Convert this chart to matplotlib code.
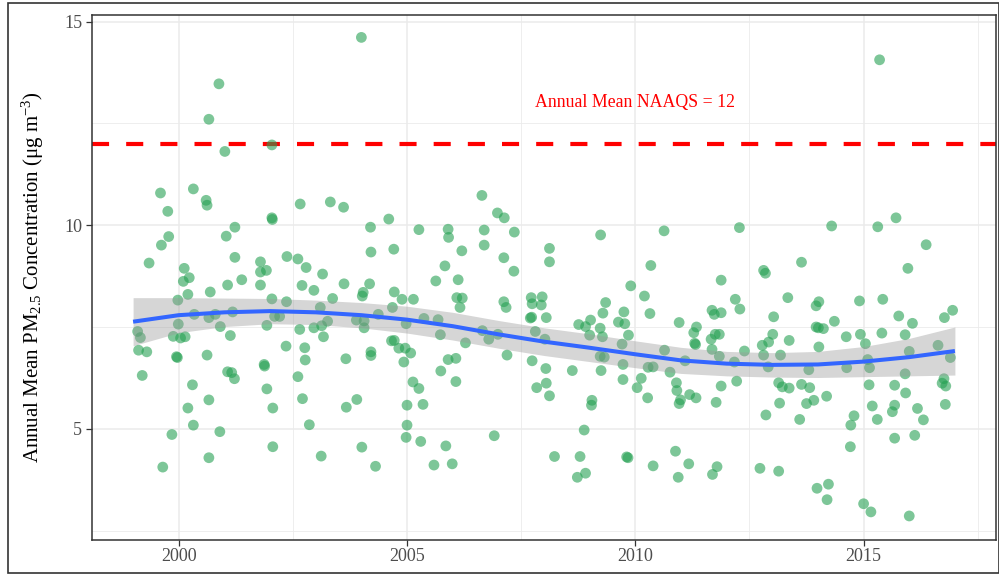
import matplotlib
matplotlib.use('Agg')
import matplotlib.pyplot as plt
from matplotlib.patches import Rectangle

plt.rcParams['font.family'] = ['Liberation Serif', 'DejaVu Serif']
plt.rcParams['mathtext.fontset'] = 'custom'
plt.rcParams['mathtext.rm'] = 'Liberation Serif'
plt.rcParams['mathtext.it'] = 'Liberation Serif:italic'
plt.rcParams['mathtext.default'] = 'regular'

obs_year = [
    2004.00, 2000.88, 2000.66, 2002.04, 2001.01, 1999.60, 2000.32, 2000.60, 2000.62, 1999.76,
    2002.66, 2003.32, 2003.61, 2002.04, 2002.05, 2001.23, 2001.04, 1999.78, 1999.62, 1999.35,
    2004.20, 2004.60, 2004.21, 2004.71, 2001.23, 2002.37, 2002.61, 2002.79, 2003.15, 2001.79,
    2001.79, 2001.92, 2000.12, 2000.23, 2000.10, 2001.38,
    2000.20, 1999.98, 2000.69, 2001.07, 2001.79, 2002.04, 2002.36, 2002.70, 2002.96, 2003.37,
    2003.62, 2004.04, 2004.02, 2004.18, 2004.72, 2003.10, 1999.10, 1999.16, 1999.12, 1999.30,
    1999.20, 1999.99, 1999.88, 2000.04, 2000.14, 1999.95, 1999.97, 2000.34, 2000.66, 2000.80,
    2000.91, 2001.18, 2001.13, 2000.62, 2000.30, 2000.20, 2000.32, 1999.85, 1999.65, 2000.66,
    2000.90, 2000.66, 2001.07, 2001.16, 2001.22, 2001.93, 2002.10, 2002.21, 2002.35, 2001.87,
    2001.88, 2001.93, 2002.06, 2002.06, 2002.65, 2002.96, 2003.13, 2003.26, 2002.76, 2002.77,
    2003.17, 2002.61, 2002.71, 2002.86, 2003.12, 2003.66, 2003.89, 2004.06, 2004.06, 2004.37,
    2004.21, 2004.21, 2004.66, 2004.68, 2003.90, 2003.67, 2004.01, 2004.31,
    2006.64, 2006.98, 2007.13, 2005.26, 2005.90, 2005.91, 2006.69, 2007.35, 2006.69, 2006.20,
    2007.12, 2005.83, 2007.34, 2008.12, 2008.12, 2009.24, 2010.63, 2010.34, 2005.63, 2006.12,
    2004.89, 2005.14, 2006.09, 2006.21, 2006.16, 2007.12, 2007.17, 2007.72, 2007.96, 2007.74,
    2007.94, 2007.70, 2007.73, 2008.05, 2007.81, 2008.02, 2007.74, 2008.04, 2007.84, 2008.05,
    2008.12, 2004.72, 2004.82, 2004.96, 2005.08, 2004.93, 2004.98, 2005.37, 2005.68, 2005.73,
    2006.28, 2006.65, 2006.79, 2006.99, 2007.19, 2005.90, 2006.07, 2005.74, 2006.07, 2005.13,
    2005.26, 2005.00, 2005.35, 2005.00, 2004.98, 2005.30, 2005.85, 2005.59, 2005.99, 2006.91,
    2008.62, 2008.76, 2008.91, 2009.02, 2009.00, 2009.23, 2009.28, 2009.29, 2009.35, 2009.23,
    2009.32, 2009.25, 2009.63, 2009.75, 2009.77, 2009.85, 2009.71, 2009.73, 2009.73, 2009.90,
    2010.20, 2010.32, 2010.13, 2010.04, 2010.27, 2010.28, 2010.39, 2010.64, 2010.76, 2010.96,
    2011.09, 2010.90, 2010.91, 2010.99, 2010.96, 2011.19, 2011.33, 2008.88, 2008.23, 2008.79,
    2008.73, 2008.91, 2009.05, 2009.04, 2009.81, 2009.84, 2010.88, 2010.39, 2010.94, 2011.17,
    2015.35, 2012.28, 2014.30, 2015.31, 2015.71, 2016.37, 2015.97, 2013.64, 2012.81, 2012.85,
    2011.88,
    2012.19, 2012.29, 2011.68, 2011.73, 2011.88, 2011.34, 2011.28, 2011.30, 2011.32, 2011.66,
    2011.75, 2011.84, 2011.68, 2011.84, 2012.17, 2012.39, 2012.22, 2011.88, 2011.77, 2011.79,
    2011.69, 2012.73, 2013.14, 2012.78, 2012.92, 2013.01, 2012.81, 2012.91, 2013.03, 2013.34,
    2013.37, 2013.18, 2013.14, 2013.22, 2013.37, 2013.16, 2012.86, 2013.64, 2013.82, 2013.80,
    2013.75, 2013.91, 2013.60, 2014.19, 2013.96, 2014.02, 2013.96, 2014.01, 2014.12, 2014.02,
    2014.36, 2014.62, 2014.63, 2014.91, 2014.93, 2015.04, 2015.09, 2015.13, 2015.40, 2015.42,
    2015.12, 2015.19, 2015.30, 2014.79, 2014.72, 2014.71, 2013.98, 2014.23, 2014.20, 2015.00,
    2015.16, 2016.00, 2015.68, 2016.12, 2015.63, 2015.68, 2015.68, 2015.92, 2015.91, 2016.18,
    2016.31, 2015.77, 2016.07, 2015.91, 2016.00, 2016.63, 2016.77, 2016.95, 2016.90, 2016.76,
    2016.72, 2016.80, 2016.79,
]
obs_pm25 = [
    14.61, 13.47, 12.60, 11.97, 11.81, 10.79, 10.89, 10.61, 10.49, 10.34,
    10.52, 10.57, 10.44, 10.18, 10.14, 9.95, 9.73, 9.72, 9.51, 9.07,
    9.95, 10.15, 9.34, 9.41, 9.21, 9.23, 9.17, 8.96, 8.80, 9.10,
    8.85, 8.89, 8.94, 8.71, 8.62, 8.66,
    8.30, 8.16, 8.36, 8.53, 8.53, 8.19, 8.12, 8.52, 8.40, 8.20,
    8.56, 8.35, 8.26, 8.56, 8.36, 7.98, 7.39, 7.24, 6.93, 6.89,
    6.31, 7.57, 7.27, 7.23, 7.26, 6.77, 6.75, 7.81, 7.73, 7.81,
    7.51, 7.87, 7.29, 6.81, 6.08, 5.51, 5.09, 4.86, 4.06, 5.71,
    4.93, 4.29, 6.40, 6.38, 6.23, 7.54, 7.76, 7.76, 7.03, 6.58,
    6.54, 5.98, 5.51, 4.56, 7.44, 7.48, 7.53, 7.64, 6.99, 6.69,
    7.26, 6.28, 5.74, 5.10, 4.33, 6.72, 7.67, 7.65, 7.48, 7.81,
    6.89, 6.80, 7.16, 7.98, 5.72, 5.53, 4.55, 4.08,
    10.73, 10.30, 10.18, 9.89, 9.90, 9.70, 9.88, 9.83, 9.51, 9.37,
    9.20, 9.00, 8.87, 9.43, 9.10, 9.76, 9.86, 9.01, 8.63, 8.66,
    8.18, 8.18, 8.22, 8.21, 7.98, 8.12, 7.98, 8.22, 8.24, 8.07,
    8.04, 7.72, 7.74, 7.73, 7.39, 7.20, 6.67, 6.48, 6.01, 6.12,
    5.81, 7.17, 6.98, 6.98, 6.86, 6.64, 7.58, 7.71, 7.68, 7.31,
    7.11, 7.41, 7.20, 7.32, 6.81, 6.70, 6.73, 6.42, 6.16, 6.15,
    5.99, 5.58, 5.60, 5.09, 4.79, 4.69, 4.58, 4.11, 4.14, 4.83,
    6.43, 7.56, 7.51, 7.67, 7.30, 7.47, 7.26, 7.84, 8.10, 6.78,
    6.76, 6.43, 7.62, 7.87, 7.58, 7.30, 7.08, 6.58, 6.21, 8.51,
    8.26, 7.83, 6.24, 6.01, 5.76, 6.51, 6.52, 6.93, 6.39, 7.61,
    6.67, 6.13, 5.94, 5.71, 5.62, 5.84, 5.76, 4.97, 4.32, 4.32,
    3.81, 3.91, 5.70, 5.58, 4.31, 4.29, 4.45, 4.09, 3.81, 4.14,
    14.06, 9.94, 9.98, 9.96, 10.18, 9.52, 8.94, 9.09, 8.89, 8.82,
    8.65,
    8.18, 7.94, 7.91, 7.81, 7.85, 7.50, 7.36, 7.10, 7.07, 7.20,
    7.32, 7.32, 6.95, 6.78, 6.64, 6.91, 6.17, 6.05, 5.65, 4.07,
    3.88, 4.03, 3.96, 7.05, 7.13, 7.32, 6.81, 6.52, 7.75, 8.22,
    7.17, 6.81, 6.13, 6.03, 6.00, 5.63, 5.34, 6.09, 6.01, 6.45,
    5.62, 5.70, 5.23, 5.80, 8.02, 8.12, 7.50, 7.48, 7.46, 7.01,
    7.64, 7.26, 6.50, 8.14, 7.32, 7.09, 6.70, 6.50, 7.35, 8.18,
    6.08, 5.56, 5.23, 5.32, 5.09, 4.56, 3.54, 3.64, 3.26, 3.16,
    2.96, 2.86, 4.77, 4.84, 5.42, 5.58, 6.07, 5.88, 6.35, 5.50,
    5.22, 7.77, 7.59, 7.31, 6.90, 7.05, 7.73, 7.91, 6.75, 6.23,
    6.12, 6.05, 5.60,
]

smooth_year = [1999, 2000, 2001, 2002, 2003, 2004, 2005, 2006, 2007, 2008,
               2009, 2010, 2011, 2012, 2013, 2014, 2015, 2016, 2017]
smooth_fit = [7.63, 7.79, 7.86, 7.89, 7.86, 7.79, 7.68, 7.52, 7.32, 7.14,
              6.99, 6.83, 6.68, 6.60, 6.57, 6.58, 6.65, 6.76, 6.91]
smooth_half = [0.59, 0.43, 0.35, 0.31, 0.30, 0.31, 0.33, 0.34, 0.34, 0.34,
               0.34, 0.33, 0.32, 0.30, 0.30, 0.32, 0.37, 0.46, 0.59]

naaqs = 12
naaqs_label = 'Annual Mean NAAQS = 12'
x_ticks = [2000, 2005, 2010, 2015]
y_ticks = [5, 10, 15]

fig = plt.figure(figsize=(9.99, 5.75), dpi=100)
ax = fig.add_axes([92 / 999, 35 / 575, 904 / 999, 525 / 575])

ax.axhline(naaqs, color='#FF0000', lw=3, dashes=(4.1, 4.1), zorder=1.5)
ax.scatter(obs_year, obs_pm25, s=60, color='#26A153', alpha=0.6,
           edgecolors='none', zorder=2)
lo = [f - h for f, h in zip(smooth_fit, smooth_half)]
hi = [f + h for f, h in zip(smooth_fit, smooth_half)]
ax.fill_between(smooth_year, lo, hi, color='#999999', alpha=0.4,
                linewidth=0, zorder=3)
ax.plot(smooth_year, smooth_fit, color='#3366FF', lw=2.9, zorder=4,
        solid_capstyle='butt')
ax.text(2010, 13, naaqs_label, color='#FF0000', fontsize=12.8,
        ha='center', va='center')

ax.set_xlim(1998.1, 2017.9)
ax.set_ylim(2.27, 15.16)
ax.set_xticks(x_ticks)
ax.set_yticks(y_ticks)
ax.set_xticks([2002.5, 2007.5, 2012.5, 2017.5], minor=True)
ax.set_yticks([2.5, 7.5, 12.5], minor=True)
ax.grid(which='major', color='#EBEBEB', lw=1.1)
ax.grid(which='minor', color='#EBEBEB', lw=0.6)
ax.set_axisbelow(True)
ax.tick_params(which='major', length=4, width=0.9, color='#333333',
               labelsize=13, labelcolor='#4D4D4D')
ax.tick_params(axis='x', pad=2)
ax.tick_params(axis='y', pad=3)
ax.tick_params(which='minor', length=0)
for sp in ax.spines.values():
    sp.set_color('#333333')
    sp.set_linewidth(1.1)

ax.set_ylabel('Annual Mean PM$_{2.5}$ Concentration (μg m$^{-3}$)',
              fontsize=15, color='black')
ax.yaxis.set_label_coords(-0.051, 0.5)

fig.add_artist(Rectangle((8 / 999, 2 / 575), 990.5 / 999, 570 / 575,
                         transform=fig.transFigure, fill=False,
                         ec='#333333', lw=1.2))

fig.savefig('out.png', dpi=100)
